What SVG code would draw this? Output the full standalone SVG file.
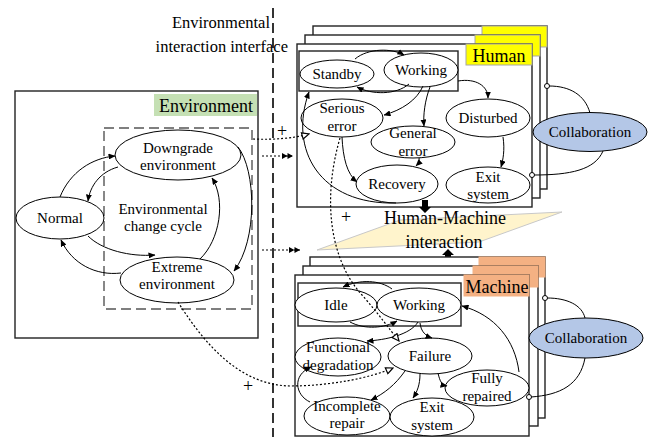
<svg xmlns="http://www.w3.org/2000/svg" width="650" height="437" viewBox="0 0 650 437">
<defs>
<style>
text{font-family:"Liberation Serif","Times New Roman",serif;font-size:15px;text-anchor:middle;fill:#000}
.big{font-size:18px}
.title{font-size:16.5px;text-anchor:end}
.n{fill:#fff;stroke:#000;stroke-width:1}
.box{fill:#fff;stroke:#222;stroke-width:1.4}
.c{fill:none;stroke:#000;stroke-width:1;marker-end:url(#ah)}
.d{fill:none;stroke:#000;stroke-width:1.2;stroke-dasharray:2,2}
.yt{fill:#ffff00;stroke:#a6a6a6;stroke-width:1}
.st{fill:#f4b183;stroke:#f4b183;stroke-width:1}
.co{fill:#b4c7e7;stroke:#000;stroke-width:1}
.sm{fill:#fff;stroke:#000;stroke-width:1}
.l{fill:none;stroke:#000;stroke-width:1}
</style>
<marker id="ah" markerWidth="7" markerHeight="6" refX="6.5" refY="3" orient="auto" markerUnits="userSpaceOnUse"><path d="M0,0 L7,3 L0,6 z" fill="#000"/></marker>
<marker id="oa" markerWidth="9" markerHeight="8" refX="8" refY="4" orient="auto" markerUnits="userSpaceOnUse"><path d="M1,0.8 L8,4 L1,7.2 z" fill="#fff" stroke="#000" stroke-width="1.2"/></marker>
<marker id="da" markerWidth="12" markerHeight="6" refX="11" refY="3" orient="auto" markerUnits="userSpaceOnUse"><path d="M0,0 L5.5,3 L0,6 z M5.5,0 L11,3 L5.5,6 z" fill="#000"/></marker>
</defs>

<!-- interface line and title -->
<line x1="273" y1="8" x2="273" y2="437" stroke="#333" stroke-width="2" stroke-dasharray="10,5"/>
<text class="title" x="270" y="28">Environmental</text>
<text class="title" x="288" y="52">interaction interface</text>

<!-- Environment -->
<g id="environment">
<rect x="15" y="91" width="243" height="247" fill="#fff" stroke="#222" stroke-width="1.4"/>
<rect x="154" y="94" width="103" height="22" fill="#c5e0b4"/>
<text class="big" x="206" y="112">Environment</text>
<rect x="104" y="128" width="148" height="181" fill="none" stroke="#555" stroke-width="1.4" stroke-dasharray="10,5"/>
<text x="163" y="214">Environmental</text>
<text x="163" y="231">change cycle</text>
</g>
<g id="env-downgrade"><ellipse class="n" cx="178" cy="155" rx="63" ry="25"/><text x="178" y="153">Downgrade</text><text x="178" y="170">environment</text></g>
<g id="env-normal"><ellipse class="n" cx="60" cy="218" rx="44" ry="21"/><text x="60" y="223">Normal</text></g>
<g id="env-extreme"><ellipse class="n" cx="177" cy="280" rx="57" ry="23"/><text x="177" y="272">Extreme</text><text x="177" y="289">environment</text></g>

<!-- Human stack -->
<g id="human">
<rect class="box" x="313" y="26" width="234" height="163"/>
<rect class="yt" x="482" y="26" width="65" height="21"/>
<rect class="box" x="305" y="35" width="235" height="163"/>
<rect class="yt" x="475" y="35" width="65" height="21"/>
<rect class="box" x="297" y="44" width="235" height="163"/>
<rect class="yt" x="466" y="44" width="66" height="21"/>
<text class="big" x="499" y="62">Human</text>
<rect x="299" y="51" width="159" height="40" fill="none" stroke="#222" stroke-width="1.4"/>
</g>
<g id="h-standby"><ellipse class="n" cx="337" cy="74" rx="37" ry="14"/><text x="337" y="79">Standby</text></g>
<g id="h-working"><ellipse class="n" cx="421" cy="70" rx="37" ry="17"/><text x="421" y="75">Working</text></g>
<g id="h-serious"><ellipse class="n" cx="342" cy="118" rx="41" ry="19"/><text x="342" y="113">Serious</text><text x="342" y="131">error</text></g>
<g id="h-general"><ellipse class="n" cx="413" cy="142" rx="42" ry="16"/><text x="413" y="138">General</text><text x="413" y="156">error</text></g>
<g id="h-disturbed"><ellipse class="n" cx="488" cy="118" rx="42" ry="19"/><text x="488" y="123">Disturbed</text></g>
<g id="h-recovery"><ellipse class="n" cx="397" cy="184" rx="41" ry="19"/><text x="397" y="189">Recovery</text></g>
<g id="h-exit"><ellipse class="n" cx="488" cy="185" rx="42" ry="18"/><text x="488" y="182">Exit</text><text x="488" y="199">system</text></g>
<g id="h-collab"><ellipse class="co" cx="590" cy="132" rx="57" ry="19.5"/><text x="590" y="137">Collaboration</text></g>

<!-- Human-Machine interaction -->
<g id="hmi">
<polygon points="317,250 400,220 562,212 479,242" fill="#fff4cc" stroke="#c8c8c8" stroke-width="1"/>
<text class="big" x="445" y="224">Human-Machine</text>
<text class="big" x="444" y="248">interaction</text>
<path d="M422,200 h6 v7 h3 l-6,6 l-6,-6 h3 z" fill="#000"/>
<path d="M448,249 l6,6 h-3 v7 h-6 v-7 h-3 z" fill="#000"/>
</g>

<!-- Machine stack -->
<g id="machine">
<rect class="box" x="310" y="257" width="235" height="161"/>
<rect class="st" x="479" y="257" width="66" height="20"/>
<rect class="box" x="303" y="266" width="235" height="160"/>
<rect class="st" x="473" y="266" width="65" height="21"/>
<rect class="box" x="295" y="275" width="234" height="161"/>
<rect class="st" x="464" y="275" width="65" height="21"/>
<text class="big" x="497" y="293">Machine</text>
<rect x="298" y="283" width="163" height="43" fill="none" stroke="#222" stroke-width="1.4"/>
</g>
<g id="m-idle"><ellipse class="n" cx="336" cy="305" rx="41" ry="17"/><text x="336" y="310">Idle</text></g>
<g id="m-working"><ellipse class="n" cx="419" cy="305" rx="42" ry="17"/><text x="419" y="310">Working</text></g>
<g id="m-fd"><ellipse class="n" cx="338" cy="357" rx="43" ry="19"/><text x="338" y="352">Functional</text><text x="338" y="370">degradation</text></g>
<g id="m-failure"><ellipse class="n" cx="430" cy="356" rx="42" ry="18"/><text x="430" y="361">Failure</text></g>
<g id="m-fully"><ellipse class="n" cx="487" cy="388" rx="42" ry="18"/><text x="487" y="383">Fully</text><text x="487" y="401">repaired</text></g>
<g id="m-incomplete"><ellipse class="n" cx="347" cy="416" rx="43" ry="19"/><text x="347" y="411">Incomplete</text><text x="347" y="428">repair</text></g>
<g id="m-exit"><ellipse class="n" cx="432" cy="417" rx="42" ry="19"/><text x="432" y="412">Exit</text><text x="432" y="430">system</text></g>
<g id="m-collab"><ellipse class="co" cx="586" cy="338" rx="57" ry="20"/><text x="586" y="343">Collaboration</text></g>

<!-- plus signs -->
<text class="big" x="282" y="137">+</text>
<text class="big" x="346" y="223">+</text>
<text class="big" x="248" y="392">+</text>

<g id="connectors">
<!-- environment -->
<path class="c" d="M60,197 C70,172 92,158 115,156"/>
<path class="c" d="M118,167 C100,172 90,186 88,201"/>
<path class="c" d="M88,236 C102,250 130,257 155,255"/>
<path class="c" d="M121,273 C96,276 72,264 61,240"/>
<path class="c" d="M200,259 C220,240 226,200 212,178"/>
<path class="c" d="M238,147 C256,170 258,240 234,271"/>
<!-- human -->
<path class="c" d="M355,59 C368,48 392,48 404,55"/>
<path class="c" d="M409,84 C396,95 372,95 357,87"/>
<path class="c" d="M458,81 C476,78 488,86 488,98"/>
<path class="c" d="M423,86 C417,100 402,110 384,115"/>
<path class="c" d="M430,87 C425,100 423,115 424,126"/>
<path class="c" d="M342,137 C343,158 347,174 357,182"/>
<path class="c" d="M419,158 C420,162 418,164 416,166"/>
<path class="c" d="M503,137 C505,150 503,160 501,167"/>
<path class="c" d="M396,203 C320,205 288,150 309,92"/>
<!-- human collaboration -->
<path class="l" d="M549,86 C570,86 585,95 590,113"/>
<path class="l" d="M603,151 C595,170 570,175 534,175"/>
<circle class="sm" cx="547" cy="86" r="2.5"/>
<circle class="sm" cx="532" cy="175" r="2.5"/>
<!-- machine -->
<path class="c" d="M392,289 C380,280 360,279 343,287"/>
<path class="c" d="M350,322 C365,330 385,328 397,321"/>
<path class="c" d="M418,322 C410,335 385,340 367,341"/>
<path class="c" d="M420,323 C421,332 426,336 432,338"/>
<path class="c" d="M405,371 C395,385 385,393 371,400"/>
<path class="c" d="M420,374 C420,385 417,392 413,398"/>
<path class="c" d="M438,373 C440,382 442,385 447,386"/>
<path class="c" d="M519,372 C515,340 495,315 462,306"/>
<path class="c" d="M310,402 C295,395 292,375 311,367"/>
<!-- machine collaboration -->
<path class="l" d="M547,298 C567,298 582,305 585,318"/>
<path class="l" d="M585,358 C580,385 560,395 531,397"/>
<circle class="sm" cx="545" cy="298" r="2.5"/>
<circle class="sm" cx="529" cy="397" r="2.5"/>
<!-- interaction (dotted) -->
<path class="d" d="M253,139 C275,140 295,138 309,134" marker-end="url(#oa)"/>
<path class="d" d="M262,156 L293,156" marker-end="url(#da)"/>
<path class="d" d="M262,250 L300,250" marker-end="url(#da)"/>
<path class="d" d="M340,138 C322,200 330,260 362,295 C378,313 390,330 399,341" marker-end="url(#oa)"/>
<path class="d" d="M178,302 C205,345 240,385 290,386 C330,386 370,378 393,368" marker-end="url(#oa)"/>
</g>
</svg>
